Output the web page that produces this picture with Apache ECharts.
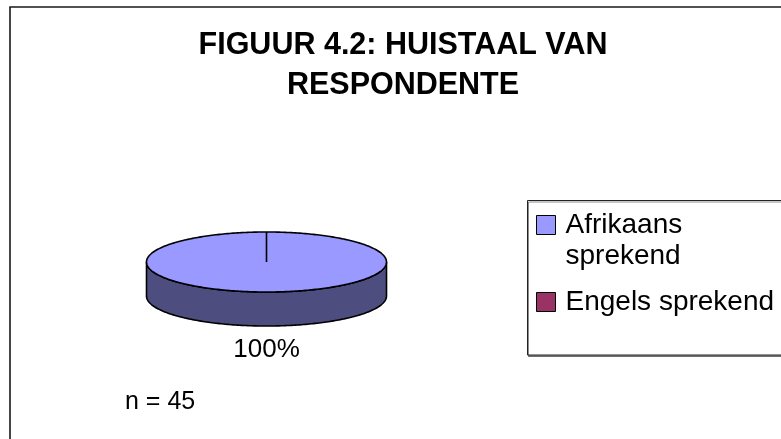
<!DOCTYPE html>
<html><head><meta charset="utf-8">
<script src="https://cdn.jsdelivr.net/npm/echarts@6/dist/echarts.min.js"></script>
<style>html,body{margin:0;padding:0;background:#fff}#c{width:781px;height:439px}</style>
</head><body><div id="c"></div>
<script>
const titleLines = ['FIGUUR 4.2: HUISTAAL VAN', 'RESPONDENTE'];
const categories = ['Afrikaans sprekend', 'Engels sprekend'];
const legendLabels = ['Afrikaans\nsprekend', 'Engels sprekend'];
const counts = [45, 0];
const colors = ['#9999FF', '#993366'];
const sampleNote = 'n = 45';

const FONT = "'Liberation Sans', Arial, Helvetica, sans-serif";
const chart = echarts.init(document.getElementById('c'), null, {renderer: 'canvas'});
const total = counts.reduce((a, b) => a + b, 0);
const PIE = {cx: 266.5, cy: 262, rx: 120, ry: 30, depth: 34, labelOff: 24};
const LEG_LH = 31;

function darken(hex, f) {
  const c = echarts.color.parse(hex);
  return 'rgb(' + Math.round(c[0] * f) + ',' + Math.round(c[1] * f) + ',' + Math.round(c[2] * f) + ')';
}
function pt(theta, dy) {
  return [PIE.cx + PIE.rx * Math.sin(theta), PIE.cy - PIE.ry * Math.cos(theta) + (dy || 0)];
}
function arcPts(a0, a1, dy) {
  const n = Math.max(2, Math.ceil(Math.abs(a1 - a0) / (Math.PI / 180)));
  const out = [];
  for (let k = 0; k <= n; k++) out.push(pt(a0 + (a1 - a0) * k / n, dy));
  return out;
}
function makeRender(i) {
  return function (params, api) {
    const v = api.value(0);
    if (!v || !total) return null;
    let before = 0;
    for (let j = 0; j < i; j++) before += counts[j];
    const a0 = before / total * 2 * Math.PI;
    const a1 = (before + v) / total * 2 * Math.PI;
    const children = [];
    const s = Math.max(a0, Math.PI / 2), e = Math.min(a1, 3 * Math.PI / 2);
    if (e > s) {
      children.push({
        type: 'polygon',
        shape: {points: arcPts(s, e, 0).concat(arcPts(e, s, PIE.depth))},
        style: {fill: darken(colors[i], 0.5), stroke: '#000', lineWidth: 1.6}
      });
    }
    children.push({
      type: 'polygon',
      shape: {points: [[PIE.cx, PIE.cy]].concat(arcPts(a0, a1, 0))},
      style: {fill: colors[i], stroke: '#000', lineWidth: 1.6}
    });
    const mid = (a0 + a1) / 2;
    const sn = Math.sin(mid), cs = Math.cos(mid);
    const lx = PIE.cx + (PIE.rx + PIE.labelOff) * sn;
    const ly = PIE.cy - (PIE.ry + PIE.labelOff) * cs + (cs < 0 ? PIE.depth : 0);
    children.push({
      type: 'text',
      style: {
        text: Math.round(v / total * 100) + '%',
        x: lx, y: ly,
        align: Math.abs(sn) < 0.3 ? 'center' : (sn > 0 ? 'left' : 'right'),
        verticalAlign: 'middle',
        fontFamily: FONT, fontSize: 26, fill: '#000'
      }
    });
    return {type: 'group', children: children};
  };
}

// Legend label: first line aligned with the swatch, extra lines below it
function legendFormatter(name) {
  const lines = legendLabels[categories.indexOf(name)].split('\n');
  let out = '';
  for (let k = 1; k < lines.length; k++) out += '{sp|\u00a0}\n';
  return out + lines.map(l => '{t|' + l + '}').join('\n');
}

chart.setOption({
  animation: false,
  backgroundColor: '#fff',
  title: {
    text: titleLines.join('\n'),
    left: 403, top: 26, textAlign: 'center', padding: 0,
    textStyle: {fontFamily: FONT, fontSize: 30.5, fontWeight: 'bold', lineHeight: 40, color: '#000'}
  },
  legend: {
    z: 10,
    orient: 'vertical', left: 536, top: 178.5,
    padding: 0, itemGap: 15,
    itemWidth: 19, itemHeight: 19, icon: 'rect',
    itemStyle: {borderColor: '#000', borderWidth: 1},
    formatter: legendFormatter,
    textStyle: {
      fontFamily: FONT, fontSize: 28, color: '#000', lineHeight: LEG_LH,
      rich: {
        t: {fontFamily: FONT, fontSize: 28, color: '#000', lineHeight: LEG_LH, padding: [0, 0, 0, 5]},
        sp: {fontFamily: FONT, fontSize: 28, lineHeight: LEG_LH}
      }
    },
    data: categories
  },
  graphic: [
    {type: 'rect', shape: {x: 10, y: 7, width: 820, height: 480}, style: {fill: null, stroke: '#1a1a1a', lineWidth: 1.6}, silent: true},
    {type: 'rect', z: 1, shape: {x: 527.5, y: 200.5, width: 300, height: 154.5},
     style: {fill: '#fff', stroke: '#222', lineWidth: 1, shadowColor: 'rgba(0,0,0,0.45)', shadowOffsetX: 1, shadowOffsetY: 1.5, shadowBlur: 0}, silent: true},
    {type: 'text', x: 125, y: 402, style: {text: sampleNote, fontFamily: FONT, fontSize: 25, fill: '#000', align: 'left', verticalAlign: 'middle'}}
  ],
  series: categories.map((name, i) => ({
    type: 'custom', name: name, coordinateSystem: 'none',
    itemStyle: {color: colors[i]},
    data: [counts[i]],
    renderItem: makeRender(i)
  }))
});
</script></body></html>
